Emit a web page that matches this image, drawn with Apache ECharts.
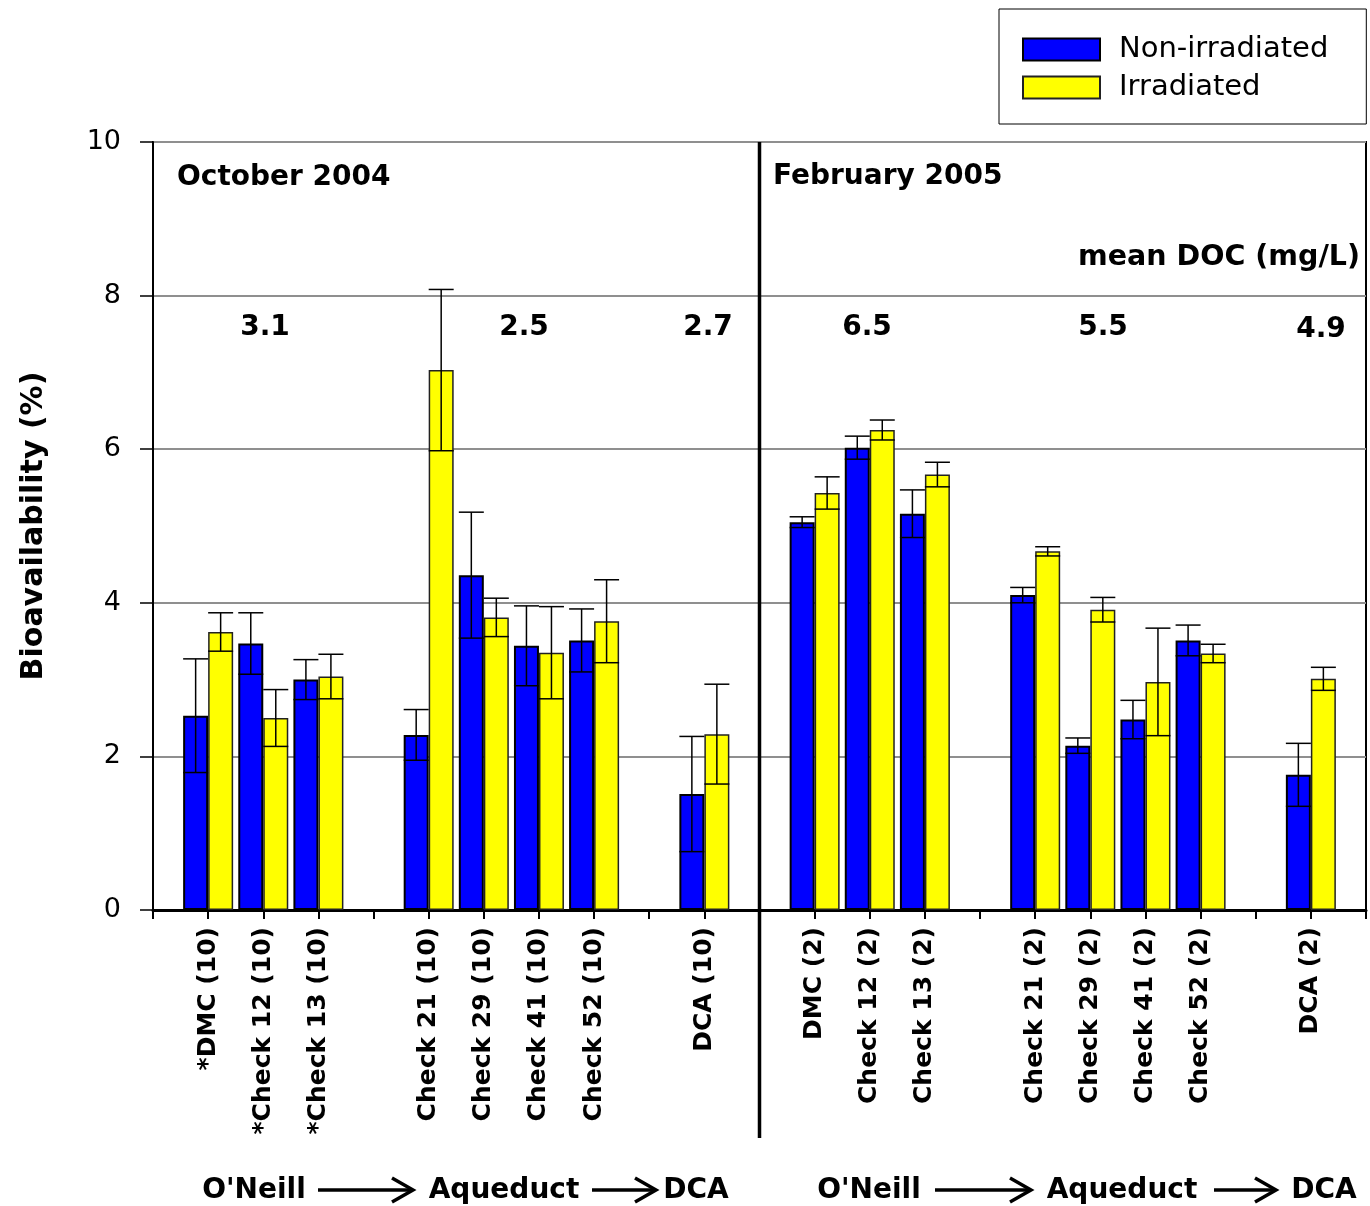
<!DOCTYPE html>
<html>
<head>
<meta charset="utf-8">
<script src="https://cdn.jsdelivr.net/npm/echarts@6/dist/echarts.min.js"></script>
<style>
  html, body { margin: 0; padding: 0; background: #fff; }
  #chart { width: 1370px; height: 1206px; }
</style>
</head>
<body>
<div id="chart"></div>
<script>
const FONT = 'DejaVu Sans'

// slots along the x axis; empty strings are spacer slots
const categories = ['', '*DMC (10)', '*Check 12 (10)', '*Check 13 (10)', '', 'Check 21 (10)', 'Check 29 (10)',
  'Check 41 (10)', 'Check 52 (10)', '', 'DCA (10)', '', 'DMC (2)', 'Check 12 (2)', 'Check 13 (2)', '',
  'Check 21 (2)', 'Check 29 (2)', 'Check 41 (2)', 'Check 52 (2)', '', 'DCA (2)', '']

const nonIrradiated = [null, 2.53, 3.47, 3.00, null, 2.28, 4.36, 3.44, 3.51, null, 1.51, null,
  5.05, 6.02, 5.16, null, 4.10, 2.14, 2.48, 3.51, null, 1.76, null]
const nonIrradiatedErr = [null, 0.74, 0.40, 0.26, null, 0.33, 0.82, 0.52, 0.41, null, 0.75, null,
  0.07, 0.15, 0.31, null, 0.10, 0.10, 0.25, 0.20, null, 0.41, null]
const irradiated = [null, 3.62, 2.50, 3.04, null, 7.03, 3.81, 3.35, 3.76, null, 2.29, null,
  5.43, 6.25, 5.67, null, 4.67, 3.91, 2.97, 3.34, null, 3.01, null]
const irradiatedErr = [null, 0.25, 0.37, 0.29, null, 1.05, 0.25, 0.60, 0.54, null, 0.65, null,
  0.21, 0.13, 0.16, null, 0.06, 0.16, 0.70, 0.12, null, 0.15, null]

const yTicks = [0, 2, 4, 6, 8, 10]
const periods = ['October 2004', 'February 2005']
const docMeans = ['3.1', '2.5', '2.7', '6.5', '5.5', '4.9']
const flowSteps = ["O'Neill", 'Aqueduct', 'DCA']

const BAR_W = 25

const errSeries = (vals, errs, offset) => ({
  type: 'custom',
  z: 5,
  silent: true,
  data: vals.map((v, i) => v == null ? null : [i, v, errs[i]]).filter(d => d),
  encode: { x: 0, y: 1 },
  renderItem: (params, api) => {
    const i = api.value(0), v = api.value(1), e = api.value(2)
    const hi = api.coord([i, v + e])
    const lo = api.coord([i, v - e])
    const x = hi[0] + offset
    const half = BAR_W / 2
    const style = { stroke: '#000', lineWidth: 1.5 }
    return {
      type: 'group',
      children: [
        { type: 'line', shape: { x1: x, y1: hi[1], x2: x, y2: lo[1] }, style },
        { type: 'line', shape: { x1: x - half, y1: hi[1], x2: x + half, y2: hi[1] }, style },
        { type: 'line', shape: { x1: x - half, y1: lo[1], x2: x + half, y2: lo[1] }, style }
      ]
    }
  }
})

const chart = echarts.init(document.getElementById('chart'))

const boldText = (x, y, text, align, size) => ({
  type: 'text', x, y,
  style: { text, fontFamily: FONT, fontWeight: 'bold', fontSize: size || 28, fill: '#000',
    align: align || 'left', verticalAlign: 'middle' }
})

const arrow = (x1, x2, y) => ({
  type: 'group',
  children: [
    { type: 'line', shape: { x1, y1: y, x2: x2 - 2, y2: y }, style: { stroke: '#000', lineWidth: 3.5 } },
    { type: 'polyline', shape: { points: [[x2 - 21, y - 12], [x2, y], [x2 - 21, y + 12]] },
      style: { stroke: '#000', lineWidth: 3.5, fill: null } }
  ]
})

const annotations = [
  boldText(177, 178, periods[0]),
  boldText(773, 177, periods[1]),
  boldText(1360, 258, 'mean DOC (mg/L)', 'right', 28.5),
  boldText(265, 328, docMeans[0], 'center'),
  boldText(524, 328, docMeans[1], 'center'),
  boldText(708, 328, docMeans[2], 'center'),
  boldText(867, 328, docMeans[3], 'center'),
  boldText(1103, 328, docMeans[4], 'center'),
  boldText(1321, 330, docMeans[5], 'center'),
  boldText(254, 1191, flowSteps[0], 'center'),
  arrow(318, 413, 1190),
  boldText(504, 1191, flowSteps[1], 'center'),
  arrow(592, 656, 1190),
  boldText(696, 1191, flowSteps[2], 'center'),
  boldText(869, 1191, flowSteps[0], 'center'),
  arrow(935, 1031, 1190),
  boldText(1122, 1191, flowSteps[1], 'center'),
  arrow(1214, 1276, 1190),
  boldText(1324, 1191, flowSteps[2], 'center')
]

chart.setOption({
  animation: false,
  backgroundColor: '#fff',
  textStyle: { fontFamily: FONT },
  grid: {
    left: 153, right: 4, top: 142, bottom: 296,
    outerBoundsMode: 'none',
    show: true, borderColor: '#000', borderWidth: 2, backgroundColor: 'transparent'
  },
  legend: {
    orient: 'vertical',
    left: 999, top: 9,
    itemWidth: 77, itemHeight: 22, itemGap: 9,
    padding: [26, 38, 22, 23],
    borderColor: '#000', borderWidth: 1,
    icon: 'rect',
    textStyle: { fontFamily: FONT, fontSize: 29, color: '#000', padding: [0, 0, 0, 14] },
    data: ['Non-irradiated', 'Irradiated']
  },
  xAxis: {
    type: 'category',
    data: categories,
    boundaryGap: false,
    axisLine: { lineStyle: { color: '#000', width: 3 } },
    axisTick: { length: 9, lineStyle: { color: '#000', width: 2 }, interval: 0 },
    axisLabel: {
      interval: 0, rotate: 90, margin: 17,
      fontFamily: FONT, fontWeight: 'bold', fontSize: 25, color: '#000'
    },
    splitLine: { show: false }
  },
  yAxis: {
    type: 'value',
    min: yTicks[0], max: yTicks[yTicks.length - 1], interval: 2,
    name: 'Bioavailability (%)',
    nameLocation: 'middle', nameGap: 104,
    nameTextStyle: { fontFamily: FONT, fontWeight: 'bold', fontSize: 30, color: '#000' },
    axisLine: { show: true, lineStyle: { color: '#000', width: 2 } },
    axisTick: { show: true, length: 13, lineStyle: { color: '#000', width: 1.5 } },
    axisLabel: { margin: 32, fontFamily: FONT, fontSize: 27, color: '#000' },
    splitLine: { show: true, lineStyle: { color: '#8f8f8f', width: 2 } }
  },
  series: [
    {
      name: 'Non-irradiated', type: 'bar', data: nonIrradiated,
      barWidth: BAR_W, barGap: '0%',
      itemStyle: { color: '#0000ff', borderColor: '#000', borderWidth: 2 }
    },
    {
      name: 'Irradiated', type: 'bar', data: irradiated,
      barWidth: BAR_W, barGap: '0%',
      itemStyle: { color: '#ffff00', borderColor: '#222', borderWidth: 1.5 }
    },
    errSeries(nonIrradiated, nonIrradiatedErr, -BAR_W / 2),
    errSeries(irradiated, irradiatedErr, BAR_W / 2)
  ],
  graphic: annotations
})

// vertical divider between the two sampling periods, running down past the labels
const divX = chart.convertToPixel({ xAxisIndex: 0 }, 11)
chart.setOption({
  graphic: annotations.concat([{
    type: 'line', z: 10,
    shape: { x1: divX, y1: 142, x2: divX, y2: 1138 },
    style: { stroke: '#000', lineWidth: 3.5 }
  }])
})
</script>
</body>
</html>
